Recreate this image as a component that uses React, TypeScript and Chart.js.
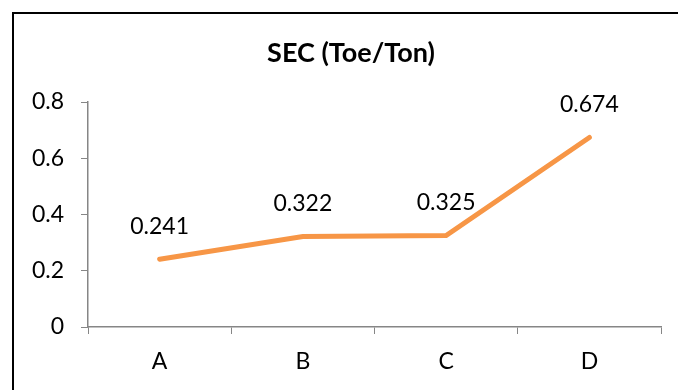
import React, { useEffect, useRef } from "react";
import { Chart, registerables } from "chart.js";

Chart.register(...registerables);

const categories = ["A", "B", "C", "D"];
const secValues = [0.241, 0.322, 0.325, 0.674];
const dataLabels = ["0.241", "0.322", "0.325", "0.674"];
const yTickValues = [0, 0.2, 0.4, 0.6, 0.8];
const chartTitle = "SEC (Toe/Ton)";

const FONT = "Lato, 'Open Sans', sans-serif";

export default function App() {
  const ref = useRef<HTMLCanvasElement | null>(null);

  useEffect(() => {
    document.body.style.margin = "0";
    const canvas = ref.current;
    if (!canvas) return;

    const overlay = {
      id: "overlay",
      afterDatasetsDraw(chart: any) {
        const ctx = chart.ctx;
        const meta = chart.getDatasetMeta(0);
        ctx.save();
        ctx.fillStyle = "#000";
        ctx.font = `23px ${FONT}`;
        ctx.textAlign = "center";
        ctx.textBaseline = "middle";
        meta.data.forEach((pt: any, i: number) => {
          ctx.fillText(dataLabels[i], pt.x, pt.y - 33);
        });
        ctx.font = `bold 27px ${FONT}`;
        ctx.fillText(chartTitle, 351, 53);
        // frame
        ctx.strokeStyle = "#000";
        ctx.lineWidth = 2;
        ctx.beginPath();
        ctx.moveTo(13, 400);
        ctx.lineTo(13, 13);
        ctx.lineTo(700, 13);
        ctx.stroke();
        ctx.restore();
      },
    };

    const chart = new Chart(canvas, {
      type: "line",
      data: {
        labels: categories,
        datasets: [
          {
            data: secValues,
            borderColor: "#F79646",
            borderWidth: 5,
            pointRadius: 0,
            tension: 0,
            borderCapStyle: "round",
            borderJoinStyle: "miter",
          },
        ],
      },
      options: {
        animation: false,
        responsive: false,
        maintainAspectRatio: false,
        layout: { padding: { top: 102, right: 17, bottom: 0, left: 0 } },
        plugins: {
          legend: { display: false },
          title: { display: false },
          tooltip: { enabled: false },
        },
        scales: {
          x: {
            offset: true,
            grid: {
              display: true,
              offset: true,
              drawOnChartArea: false,
              drawTicks: true,
              tickLength: 7,
              color: "#868686",
            },
            border: { display: true, color: "#868686", width: 1.5 },
            ticks: {
              color: "#000",
              font: { family: FONT, size: 23 },
              padding: 14,
              maxRotation: 0,
            },
            afterFit(scale: any) {
              scale.height = 63;
            },
          },
          y: {
            min: 0,
            max: 0.8,
            afterBuildTicks(scale: any) {
              scale.ticks = yTickValues.map((v) => ({ value: v }));
            },
            grid: {
              display: true,
              drawOnChartArea: false,
              drawTicks: true,
              tickLength: 7,
              color: "#868686",
            },
            border: { display: true, color: "#868686", width: 1.5 },
            ticks: {
              color: "#000",
              font: { family: FONT, size: 23 },
              padding: 17,
              callback: (v: any) => String(Math.round(Number(v) * 10) / 10),
            },
            afterFit(scale: any) {
              scale.width = 88;
            },
          },
        },
      },
      plugins: [overlay],
    });

    return () => chart.destroy();
  }, []);

  return (
    <div style={{ width: 678, height: 390 }}>
      <canvas ref={ref} width={678} height={390} style={{ display: "block" }} />
    </div>
  );
}
